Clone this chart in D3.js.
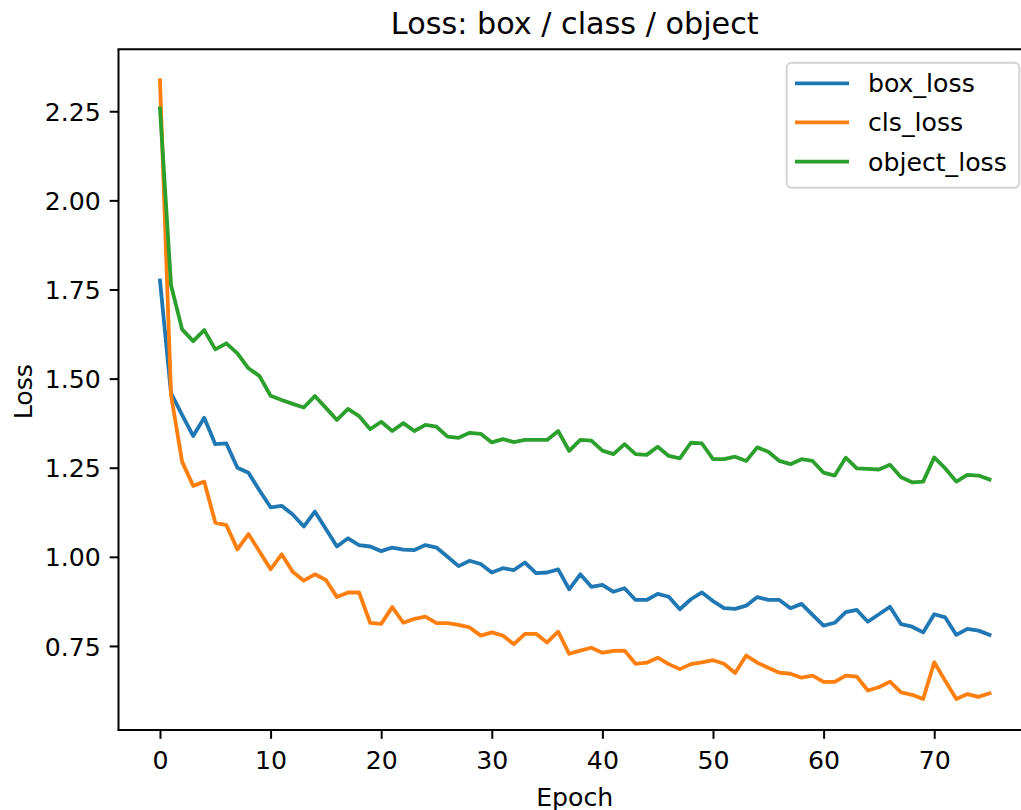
<!DOCTYPE html>
<html>
<head>
<meta charset="utf-8">
<script src="https://cdn.jsdelivr.net/npm/d3@7"></script>
<style>
  html, body { margin: 0; padding: 0; background: #fff; overflow: hidden; }
  svg { display: block; font-family: "DejaVu Sans", sans-serif; }
</style>
</head>
<body>
<svg id="chart" width="1021" height="810"></svg>
<script>
const title = "Loss: box / class / object";
const xLabel = "Epoch";
const yLabel = "Loss";
const xTicks = [0, 10, 20, 30, 40, 50, 60, 70];
const yTicks = [0.75, 1.00, 1.25, 1.50, 1.75, 2.00, 2.25];
const seriesNames = ["box_loss", "cls_loss", "object_loss"];
const seriesColors = ["#1f77b4", "#ff7f0e", "#2ca02c"];

const boxLoss = [1.775, 1.459, 1.398, 1.339, 1.390, 1.316, 1.318, 1.250, 1.236, 1.186,
  1.139, 1.143, 1.119, 1.085, 1.127, 1.078, 1.029, 1.052, 1.033, 1.029,
  1.016, 1.026, 1.020, 1.019, 1.033, 1.026, 1.000, 0.974, 0.989, 0.980,
  0.956, 0.968, 0.963, 0.984, 0.954, 0.956, 0.965, 0.909, 0.951, 0.916,
  0.921, 0.902, 0.912, 0.879, 0.879, 0.896, 0.888, 0.853, 0.881, 0.900,
  0.876, 0.856, 0.854, 0.863, 0.887, 0.879, 0.879, 0.856, 0.868, 0.837,
  0.807, 0.815, 0.845, 0.851, 0.818, 0.839, 0.860, 0.811, 0.804, 0.788,
  0.839, 0.830, 0.781, 0.798, 0.793, 0.781];

const clsLoss = [2.337, 1.454, 1.267, 1.199, 1.211, 1.096, 1.089, 1.021, 1.064, 1.015,
  0.965, 1.007, 0.958, 0.933, 0.951, 0.935, 0.887, 0.900, 0.900, 0.815,
  0.812, 0.859, 0.815, 0.826, 0.832, 0.814, 0.814, 0.809, 0.802, 0.779,
  0.788, 0.779, 0.755, 0.784, 0.784, 0.760, 0.790, 0.728, 0.737, 0.745,
  0.731, 0.736, 0.737, 0.700, 0.703, 0.717, 0.699, 0.685, 0.699, 0.704,
  0.710, 0.700, 0.674, 0.723, 0.703, 0.689, 0.675, 0.672, 0.661, 0.667,
  0.649, 0.649, 0.667, 0.664, 0.625, 0.634, 0.650, 0.620, 0.613, 0.601,
  0.704, 0.652, 0.601, 0.615, 0.607, 0.617];

const objectLoss = [2.258, 1.762, 1.638, 1.605, 1.636, 1.582, 1.599, 1.571, 1.529, 1.507,
  1.452, 1.440, 1.429, 1.419, 1.451, 1.418, 1.384, 1.415, 1.395, 1.358,
  1.379, 1.353, 1.375, 1.353, 1.370, 1.365, 1.337, 1.334, 1.348, 1.345,
  1.321, 1.330, 1.322, 1.328, 1.328, 1.328, 1.353, 1.297, 1.328, 1.326,
  1.298, 1.288, 1.316, 1.288, 1.286, 1.309, 1.283, 1.276, 1.320, 1.318,
  1.274, 1.274, 1.281, 1.269, 1.307, 1.295, 1.269, 1.260, 1.274, 1.269,
  1.236, 1.228, 1.278, 1.248, 1.247, 1.245, 1.258, 1.223, 1.209, 1.211,
  1.279, 1.248, 1.211, 1.230, 1.228, 1.217];

const series = [boxLoss, clsLoss, objectLoss];
const epochs = boxLoss.map((_, i) => i);

const svg = d3.select("#chart");
const mLeft = 118.5, mTop = 49.3, mRight = 1031, mBottom = 730;
const fs = 25.2;

// matplotlib-style 5% margins
const xMin = d3.min(epochs), xMax = d3.max(epochs);
const xPad = (xMax - xMin) * 0.05;
const allVals = series.flat();
const yMin = d3.min(allVals), yMax = d3.max(allVals);
const yPad = (yMax - yMin) * 0.05;

const x = d3.scaleLinear().domain([xMin - xPad, xMax + xPad]).range([mLeft, mRight]);
const y = d3.scaleLinear().domain([yMin - yPad, yMax + yPad]).range([mBottom, mTop]);

// lines
const line = d3.line().x((d, i) => x(epochs[i])).y(d => y(d));
series.forEach((s, k) => {
  svg.append("path")
    .datum(s)
    .attr("d", line)
    .attr("fill", "none")
    .attr("stroke", seriesColors[k])
    .attr("stroke-width", 3.8)
    .attr("stroke-linejoin", "round")
    .attr("stroke-linecap", "square");
});

// axes
const xAxis = d3.axisBottom(x).tickValues(xTicks).tickFormat(d3.format("d"))
  .tickSizeInner(8.8).tickSizeOuter(0).tickPadding(8.8);
const yAxis = d3.axisLeft(y).tickValues(yTicks).tickFormat(d3.format(".2f"))
  .tickSizeInner(8.8).tickSizeOuter(0).tickPadding(8.8);

const gx = svg.append("g").attr("transform", `translate(0,${mBottom})`).call(xAxis);
const gy = svg.append("g").attr("transform", `translate(${mLeft},0)`).call(yAxis);
[gx, gy].forEach(g => {
  g.select(".domain").remove();
  g.selectAll(".tick line").attr("stroke", "#000").attr("stroke-width", 2);
  g.selectAll(".tick text").attr("fill", "#000")
    .style("font-family", "'DejaVu Sans', sans-serif").style("font-size", fs + "px");
});
gx.selectAll(".tick text").attr("dy", "0.83em");
gy.selectAll(".tick text").attr("dy", "0.36em");

// spines (right spine lies outside the visible area)
const spines = [
  [mLeft, mTop, mLeft, mBottom],
  [mLeft - 1, mTop, mRight, mTop],
  [mLeft - 1, mBottom, mRight, mBottom]
];
spines.forEach(s => {
  svg.append("line").attr("x1", s[0]).attr("y1", s[1]).attr("x2", s[2]).attr("y2", s[3])
    .attr("stroke", "#000").attr("stroke-width", 2);
});

// title and labels
svg.append("text").attr("x", (mLeft + mRight) / 2).attr("y", 34)
  .attr("text-anchor", "middle").style("font-size", (fs * 1.2) + "px").attr("fill", "#000")
  .text(title);
svg.append("text").attr("x", (mLeft + mRight) / 2).attr("y", 806)
  .attr("text-anchor", "middle").style("font-size", fs + "px").attr("fill", "#000")
  .text(xLabel);
svg.append("text").attr("transform", `translate(31.5,${(mTop + mBottom) / 2 + 2}) rotate(-90)`)
  .attr("text-anchor", "middle").style("font-size", fs + "px").attr("fill", "#000")
  .text(yLabel);

// legend
const lg = svg.append("g");
lg.append("rect").attr("x", 786.7).attr("y", 62.7).attr("width", 232.6).attr("height", 125)
  .attr("rx", 5).attr("ry", 5)
  .attr("fill", "#fff").attr("fill-opacity", 0.8)
  .attr("stroke", "#d4d4d4").attr("stroke-width", 2);
const rowY = [83.3, 122.3, 161.7];
seriesNames.forEach((name, k) => {
  lg.append("line").attr("x1", 795).attr("x2", 849).attr("y1", rowY[k]).attr("y2", rowY[k])
    .attr("stroke", seriesColors[k]).attr("stroke-width", 3.8);
  lg.append("text").attr("x", 868).attr("y", rowY[k]).attr("dy", "0.36em")
    .style("font-size", fs + "px").attr("fill", "#000").text(name);
});
</script>
</body>
</html>
